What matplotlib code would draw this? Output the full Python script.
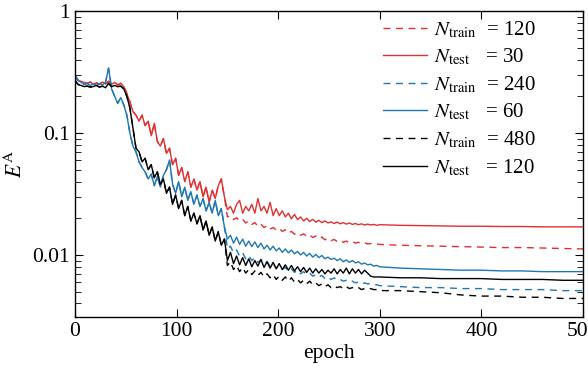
import numpy as np
import matplotlib
matplotlib.use("Agg")
import matplotlib.pyplot as plt

plt.rcParams['font.family'] = ['Liberation Serif', 'DejaVu Serif']
plt.rcParams['mathtext.fontset'] = 'stix'
plt.rcParams['font.size'] = 15.5

# epochs: every 3 up to 300, then every 20
epochs = list(range(0, 301, 3)) + list(range(320, 501, 20))

# test error (solid lines)
test_30 = [0.29, 0.27, 0.265, 0.26, 0.255, 0.262, 0.25, 0.258, 0.25, 0.262,
           0.252, 0.265, 0.25, 0.26, 0.248, 0.255, 0.24, 0.21, 0.18, 0.15,
           0.14, 0.125, 0.14, 0.115, 0.125, 0.095, 0.12, 0.085, 0.078, 0.09,
           0.068, 0.075, 0.055, 0.062, 0.045, 0.052, 0.04, 0.048, 0.036, 0.042,
           0.034, 0.04, 0.03, 0.036, 0.027, 0.034, 0.029, 0.037, 0.042, 0.03,
           0.0235, 0.025, 0.022, 0.026, 0.028, 0.022, 0.025, 0.023, 0.026, 0.022,
           0.029, 0.023, 0.025, 0.022, 0.027, 0.021, 0.024, 0.021, 0.023, 0.0205,
           0.022, 0.0198, 0.0215, 0.0195, 0.0205, 0.019, 0.02, 0.0188, 0.0196, 0.0186,
           0.0192, 0.0184, 0.019, 0.0183, 0.0187, 0.0181, 0.0186, 0.018, 0.0184, 0.0179,
           0.0183, 0.0178, 0.0181, 0.0177, 0.018, 0.0176, 0.0179, 0.0176, 0.0178, 0.0175,
           0.0177,
           0.0175, 0.0174, 0.0173, 0.0172, 0.0172, 0.0171, 0.0171, 0.017, 0.017, 0.017]
test_60 = [0.30, 0.27, 0.26, 0.25, 0.255, 0.245, 0.252, 0.245, 0.255, 0.248,
           0.26, 0.34, 0.23, 0.2, 0.175, 0.195, 0.17, 0.14, 0.1, 0.078,
           0.07, 0.058, 0.052, 0.048, 0.042, 0.046, 0.037, 0.044, 0.036, 0.045,
           0.05, 0.06, 0.038, 0.032, 0.04, 0.03, 0.036, 0.028, 0.033, 0.026,
           0.031, 0.025, 0.029, 0.023, 0.027, 0.022, 0.028, 0.021, 0.024, 0.017,
           0.0135, 0.0145, 0.0125, 0.014, 0.0122, 0.0135, 0.0118, 0.013, 0.0117, 0.0128,
           0.0115, 0.0125, 0.0112, 0.012, 0.011, 0.0118, 0.0108, 0.0114, 0.0105, 0.0112,
           0.0104, 0.011, 0.0102, 0.0107, 0.01, 0.0105, 0.0098, 0.0103, 0.0096, 0.0101,
           0.0095, 0.0099, 0.0093, 0.0096, 0.0092, 0.0094, 0.009, 0.0093, 0.0088, 0.0091,
           0.0087, 0.009, 0.0086, 0.0088, 0.0084, 0.0086, 0.0083, 0.0084, 0.0081, 0.0082,
           0.008,
           0.0078, 0.0077, 0.0076, 0.0075, 0.0075, 0.0074, 0.0074, 0.0073, 0.0073, 0.0073]
test_120 = [0.27, 0.25, 0.245, 0.24, 0.242, 0.238, 0.24, 0.245, 0.238, 0.242,
            0.235, 0.255, 0.24, 0.245, 0.24, 0.242, 0.23, 0.2, 0.16, 0.11,
            0.075, 0.07, 0.058, 0.062, 0.05, 0.055, 0.043, 0.048, 0.038, 0.042,
            0.032, 0.036, 0.026, 0.031, 0.024, 0.028, 0.021, 0.025, 0.019, 0.022,
            0.018, 0.021, 0.016, 0.019, 0.0145, 0.017, 0.013, 0.0155, 0.012, 0.0135,
            0.009, 0.0105, 0.0085, 0.0098, 0.0083, 0.0095, 0.0082, 0.0093, 0.008, 0.009,
            0.0081, 0.0092, 0.0079, 0.0088, 0.0078, 0.0087, 0.0077, 0.0085, 0.0076, 0.0083,
            0.0075, 0.0082, 0.0074, 0.008, 0.0073, 0.0079, 0.0072, 0.0078, 0.0071, 0.0077,
            0.0071, 0.0076, 0.007, 0.0075, 0.0071, 0.0077, 0.007, 0.0076, 0.0071, 0.0078,
            0.007, 0.0077, 0.0071, 0.0076, 0.007, 0.0075, 0.0071, 0.0067, 0.0066, 0.0066,
            0.0066,
            0.0065, 0.0065, 0.0064, 0.0064, 0.0064, 0.0063, 0.0063, 0.0063, 0.0062, 0.0062]

# training error (dashed): follows the test curve until epoch 147, own values from 150 on
train_120_tail = [0.0205, 0.021, 0.0195, 0.0202, 0.019, 0.0196, 0.0183, 0.019, 0.0178, 0.0184,
                  0.0172, 0.0179, 0.0168, 0.0174, 0.0163, 0.0168, 0.016, 0.0165, 0.0156, 0.0161,
                  0.0151, 0.0156, 0.0148, 0.0152, 0.0145, 0.0149, 0.0142, 0.0146, 0.0139, 0.0143,
                  0.0136, 0.014, 0.0133, 0.0137, 0.0131, 0.0134, 0.0129, 0.0132, 0.0127, 0.013,
                  0.0126, 0.0129, 0.0125, 0.0127, 0.0124, 0.0126, 0.0123, 0.0124, 0.0122, 0.0123,
                  0.0122,
                  0.012, 0.0119, 0.0118, 0.0117, 0.0116, 0.0115, 0.0115, 0.0114, 0.0113, 0.0112]
train_240_tail = [0.0112, 0.0118, 0.0104, 0.011, 0.0098, 0.0104, 0.0093, 0.0099, 0.009, 0.0095,
                  0.0087, 0.0091, 0.0084, 0.0088, 0.0081, 0.0085, 0.0078, 0.0082, 0.0076, 0.0079,
                  0.0074, 0.0077, 0.0072, 0.0075, 0.007, 0.0073, 0.0069, 0.0071, 0.0067, 0.0069,
                  0.0066, 0.0068, 0.0064, 0.0066, 0.0063, 0.0065, 0.0062, 0.0063, 0.0061, 0.0062,
                  0.006, 0.0061, 0.0059, 0.006, 0.0058, 0.0059, 0.0058, 0.0058, 0.0057, 0.0057,
                  0.0056,
                  0.0055, 0.0054, 0.0054, 0.0053, 0.0053, 0.0052, 0.0052, 0.0052, 0.0051, 0.0051]
train_480_tail = [0.0082, 0.0088, 0.0076, 0.0082, 0.0073, 0.0079, 0.0071, 0.0076, 0.0069, 0.0074,
                  0.0068, 0.0072, 0.0066, 0.007, 0.0065, 0.0069, 0.0063, 0.0067, 0.0062, 0.0066,
                  0.0061, 0.0065, 0.006, 0.0063, 0.0059, 0.0062, 0.0058, 0.0061, 0.0057, 0.0059,
                  0.0056, 0.0058, 0.0055, 0.0057, 0.0054, 0.0056, 0.0054, 0.0055, 0.0053, 0.0055,
                  0.0053, 0.0054, 0.0053, 0.0054, 0.0052, 0.0053, 0.0052, 0.0053, 0.0052, 0.0052,
                  0.0051,
                  0.0051, 0.005, 0.0049, 0.0047, 0.0046, 0.0046, 0.0045, 0.0045, 0.0044, 0.0044]

k = epochs.index(150)
train_120 = test_30[:k] + train_120_tail
train_240 = test_60[:k] + train_240_tail
train_480 = test_120[:k] + train_480_tail

red = '#e03030'
blue = '#1f77b4'
dash = (0, (5, 4))

fig = plt.figure(figsize=(5.88, 3.74), dpi=100)
ax = fig.add_axes([0.1276, 0.1524, 0.8639, 0.8182])

ax.plot(epochs, train_120, color=red, lw=1.0, ls=dash, label=r'$N_{\rm train}$  = 120')
ax.plot(epochs, test_30, color=red, lw=1.0, label=r'$N_{\rm test}$   = 30')
ax.plot(epochs, train_240, color=blue, lw=1.0, ls=dash, label=r'$N_{\rm train}$  = 240')
ax.plot(epochs, test_60, color=blue, lw=1.0, label=r'$N_{\rm test}$   = 60')
ax.plot(epochs, train_480, color='black', lw=1.0, ls=dash, label=r'$N_{\rm train}$  = 480')
ax.plot(epochs, test_120, color='black', lw=1.0, label=r'$N_{\rm test}$   = 120')

ax.set_yscale('log')
ax.set_xlim(0, 500)
ax.set_ylim(0.0031, 1)
ax.set_xticks([0, 100, 200, 300, 400, 500])
ax.set_yticks([0.01, 0.1, 1])
ax.set_yticklabels(['0.01', '0.1', '1'])
ax.tick_params(which='both', direction='in', top=True, right=True, labelsize=15.5)
ax.tick_params(which='major', length=6)
ax.tick_params(which='minor', length=4)
ax.tick_params(axis='x', which='minor', bottom=False, top=False)
for s in ax.spines.values():
    s.set_linewidth(1.0)

ax.set_xlabel('epoch', fontsize=15.5, labelpad=2)
ax.set_ylabel(r'$E^{\rm A}$', fontsize=15.5, labelpad=4)

ax.legend(loc='upper left', bbox_to_anchor=(0.59, 1.0), frameon=False, fontsize=15,
          handlelength=2.1, labelspacing=0.33, borderaxespad=0.0, handletextpad=0.35)

fig.savefig('out.png', dpi=100)
